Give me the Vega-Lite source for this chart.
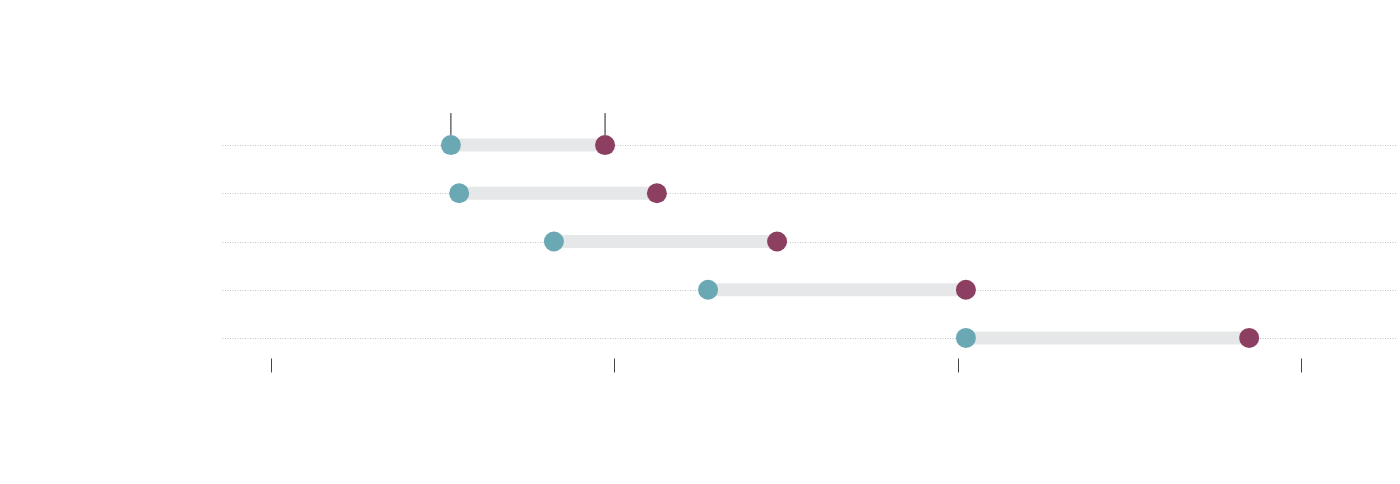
{
  "$schema": "https://vega.github.io/schema/vega-lite/v6.json",
  "autosize": "none",
  "width": 1175,
  "height": 241,
  "padding": {"left": 222, "top": 121, "right": 3, "bottom": 122},
  "background": "white",
  "config": {"view": {"stroke": null}},
  "data": {"values": [
    {"row": "A", "start": 5.24, "end": 9.73},
    {"row": "B", "start": 5.48, "end": 11.24},
    {"row": "C", "start": 8.24, "end": 14.74},
    {"row": "D", "start": 12.73, "end": 20.24},
    {"row": "E", "start": 20.24, "end": 28.49}
  ]},
  "encoding": {
    "y": {"field": "row", "type": "nominal", "sort": null,
      "scale": {"type": "point", "padding": 0.5},
      "axis": {"title": null, "labels": false, "ticks": false, "domain": false,
        "grid": true, "gridColor": "#c4c4c4", "gridDash": [1, 1.5], "gridWidth": 1}}
  },
  "layer": [
    {
      "mark": {"type": "rule", "strokeWidth": 13, "color": "#e6e7e8", "strokeCap": "butt"},
      "encoding": {
        "x": {"field": "start", "type": "quantitative",
          "scale": {"domain": [-1.427, 32.796], "nice": false, "zero": false},
          "axis": {"title": null, "labels": false, "domain": false, "grid": false,
            "values": [0, 10, 20, 30], "tickSize": 14, "tickColor": "#444444", "tickWidth": 1, "offset": -4}},
        "x2": {"field": "end"}
      }
    },
    {
      "transform": [{"filter": "datum.row === 'A'"}],
      "mark": {"type": "rule", "color": "#222222", "strokeWidth": 1, "yOffset": -32, "y2Offset": -10},
      "encoding": {
        "x": {"field": "start", "type": "quantitative"},
        "y2": {"field": "row"}
      }
    },
    {
      "transform": [{"filter": "datum.row === 'A'"}],
      "mark": {"type": "rule", "color": "#222222", "strokeWidth": 1, "yOffset": -32, "y2Offset": -10},
      "encoding": {
        "x": {"field": "end", "type": "quantitative"},
        "y2": {"field": "row"}
      }
    },
    {
      "mark": {"type": "circle", "size": 400, "opacity": 1, "color": "#6aa8b3"},
      "encoding": {"x": {"field": "start", "type": "quantitative"}}
    },
    {
      "mark": {"type": "circle", "size": 400, "opacity": 1, "color": "#8c3f61"},
      "encoding": {"x": {"field": "end", "type": "quantitative"}}
    }
  ]
}
